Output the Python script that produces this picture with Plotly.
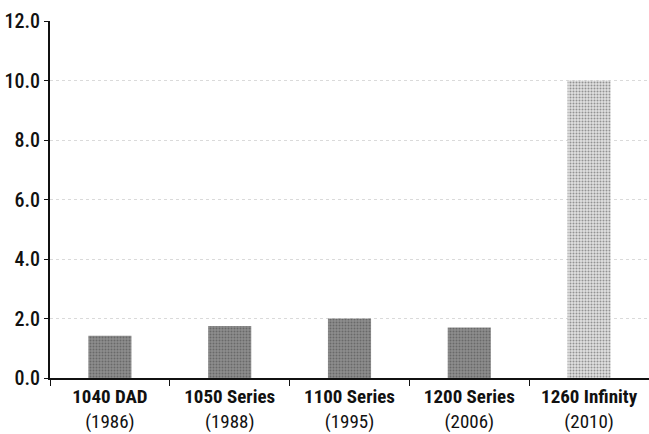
import plotly.graph_objects as go

models = ["1040 DAD", "1050 Series", "1100 Series", "1200 Series", "1260 Infinity"]
years = ["1986", "1988", "1995", "2006", "2010"]
values = [1.42, 1.75, 2.0, 1.7, 10.0]
y_ticks = [0, 2, 4, 6, 8, 10, 12]

labels = [f"<b>{m}</b><br>({y})" for m, y in zip(models, years)]
bar_bg = ["#8e8e8e", "#8e8e8e", "#8e8e8e", "#8e8e8e", "#e0e0e0"]
bar_fg = ["#2a2a2a", "#2a2a2a", "#2a2a2a", "#2a2a2a", "#777777"]

fig = go.Figure(go.Bar(
    x=labels, y=values, width=0.36,
    marker=dict(color=bar_bg, line=dict(width=0),
                pattern=dict(shape=".", fgcolor=bar_fg, bgcolor=bar_bg, size=3, solidity=0.35)),
))

font_family = "Roboto Condensed, Liberation Sans Narrow, Roboto, sans-serif"
fig.update_layout(
    width=649, height=434,
    margin=dict(l=50, r=0, t=21, b=56),
    paper_bgcolor="white", plot_bgcolor="white",
    showlegend=False,
    font=dict(family=font_family, size=19, color="#111111"),
)
fig.update_yaxes(
    range=[0, 12], tickvals=y_ticks, ticktext=[f"{v:.1f}" for v in y_ticks],
    showline=True, linecolor="#111111", linewidth=2,
    ticks="outside", ticklen=4, tickcolor="#111111", tickwidth=1,
    showgrid=True, gridcolor="#dadada", griddash="dot", gridwidth=1,
    zeroline=False, automargin=False,
    tickfont=dict(family=font_family, size=20, weight=500),
)
fig.update_xaxes(
    showline=True, linecolor="#111111", linewidth=2,
    ticks="outside", tickson="boundaries", ticklen=6, tickcolor="#111111", tickwidth=1,
    showgrid=False, tickangle=0, automargin=False,
    tickfont=dict(family=font_family, size=19),
)
fig.write_html("out.html", config={"displayModeBar": False},
               post_script="document.body.style.margin='0px';")
